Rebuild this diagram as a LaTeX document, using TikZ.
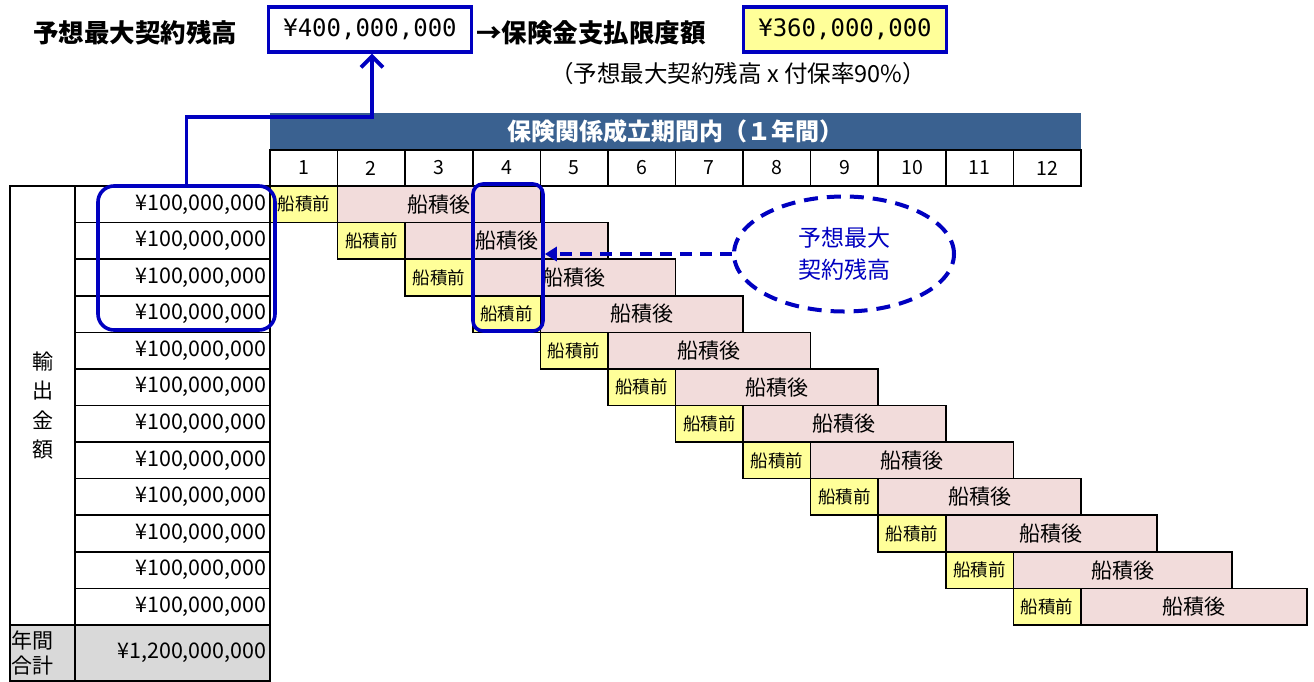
\documentclass[tikz,border=0pt]{standalone}
\usepackage{fontspec}
\setmainfont{Noto Sans CJK JP}
\newfontfamily\mono{DejaVu Sans Mono}
\usetikzlibrary{arrows.meta,shapes.geometric}
\definecolor{bl}{HTML}{0000C0}
\definecolor{hdr}{HTML}{3A6190}
\definecolor{yel}{HTML}{FFFF99}
\definecolor{pnk}{HTML}{F2DCDB}
\definecolor{gry}{HTML}{D9D9D9}
\begin{document}
\begin{tikzpicture}[x=1pt,y=-1pt,
  cell/.style={draw=black, line width=1.6pt, inner sep=0pt},
  amt/.style={cell, minimum width=195pt, minimum height=36.58pt, text width=188pt, align=right, font=\fontsize{21.5}{21.5}\selectfont},
  yelbox/.style={cell, fill=yel, minimum height=36.58pt, font=\fontsize{17.5}{17.5}\selectfont},
  pnkbox/.style={cell, fill=pnk, minimum height=36.58pt, font=\fontsize{21}{21}\selectfont},
  selbox/.style={draw=bl, line width=3.6pt, inner sep=0pt},
  toptext/.style={font=\fontsize{25.5}{25.5}\selectfont\bfseries, inner sep=0pt},
  valbox/.style={draw=bl, line width=3.4pt, inner sep=0pt, minimum width=203pt, minimum height=45pt, font=\mono\fontsize{24}{24}\selectfont}
]
\useasboundingbox (0,0) rectangle (1314,681);
\fill[white] (0,0) rectangle (1314,681);

% header bar
\node[fill=hdr, inner sep=0pt, minimum width=811pt, minimum height=36pt, text=white, font=\fontsize{24}{24}\selectfont\bfseries] (hdr) at (675.5,131) {保険関係成立期間内（１年間）};

% month row
\foreach \i in {1,...,12}{
  \pgfmathsetmacro\cx{270+67.583*(\i-0.5)}
  \node[cell, minimum width=67.583pt, minimum height=36pt, font=\fontsize{19.5}{19.5}\selectfont] (m\i) at (\cx,168) {\i};
}

% left table
\node[cell, minimum width=65pt, minimum height=439pt, align=center, font=\fontsize{21}{29.5}\selectfont] (outer) at (42.5,405.5) {輸\\出\\金\\額};
\foreach \i in {1,...,12}{
  \pgfmathsetmacro\cy{186+36.58*(\i-0.5)}
  \node[amt] (v\i) at (172.5,\cy) {¥100,000,000};
}
\node[cell, fill=gry, minimum width=65pt, minimum height=56pt, text width=62pt, align=left, font=\fontsize{21}{25}\selectfont] (tl) at (42.5,653) {年間\\合計};
\node[cell, fill=gry, minimum width=195pt, minimum height=56pt, text width=188pt, align=right, font=\fontsize{21.5}{21.5}\selectfont] (tv) at (172.5,653) {¥1,200,000,000};

% shipment bars
\foreach \i/\a/\b/\c in {1/270/337.6/540.3, 2/337.6/405.2/607.9, 3/405.2/472.7/675.5, 4/472.7/540.3/743.1, 5/540.3/607.9/810.6, 6/607.9/675.5/878.2, 7/675.5/743.1/945.8, 8/743.1/810.6/1013.4, 9/810.6/878.2/1081, 10/878.2/945.8/1157, 11/945.8/1013.4/1232, 12/1013.4/1081/1307}{
  \pgfmathsetmacro\cy{186+36.58*(\i-0.5)}
  \pgfmathsetmacro\ya{(\a+\b)/2}
  \pgfmathsetmacro\yw{\b-\a}
  \pgfmathsetmacro\pa{(\b+\c)/2}
  \pgfmathsetmacro\pw{\c-\b}
  \node[pnkbox, minimum width=\pw pt] (p\i) at (\pa,\cy) {船積後};
  \node[yelbox, minimum width=\yw pt] (y\i) at (\ya,\cy) {船積前};
}

% selection boxes
\node[selbox, rounded corners=16pt, minimum width=177pt, minimum height=144pt] (sel1) at (186.5,258) {};
\node[selbox, rounded corners=10pt, minimum width=70pt, minimum height=147pt] (sel2) at (508,257.5) {};

% top line
\node[toptext] (t1) at (135,33) {予想最大契約残高};
\node[valbox, fill=white] (b400) at (370,29.5) {¥400,000,000};
\node[toptext, anchor=west] (t2) at (476,33) {→保険金支払限度額};
\node[valbox, fill=yel] (b360) at (845,29.5) {¥360,000,000};
\node[inner sep=0pt, font=\fontsize{23.5}{23.5}\selectfont] (t3) at (738,74) {（予想最大契約残高 x 付保率90\%）};

% connector
\coordinate (k) at (372,117);
\draw[bl, line width=3.8pt, -{Straight Barb[length=11pt,width=22pt]}] (sel1.north) |- (k) -- (b400.south -| k);

% ellipse
\node[ellipse, draw=bl, line width=4pt, dash pattern=on 14pt off 9pt, minimum width=220pt, minimum height=115pt, inner sep=0pt, text=bl, align=center, font=\fontsize{23}{32}\selectfont] (ell) at (844,254) {予想最大\\契約残高};
\draw[bl, line width=3.2pt, dash pattern=on 12pt off 8pt, -{Triangle[length=12pt,width=14pt]}] (ell.west) -- (sel2.east |- ell.west);
\end{tikzpicture}
\end{document}
